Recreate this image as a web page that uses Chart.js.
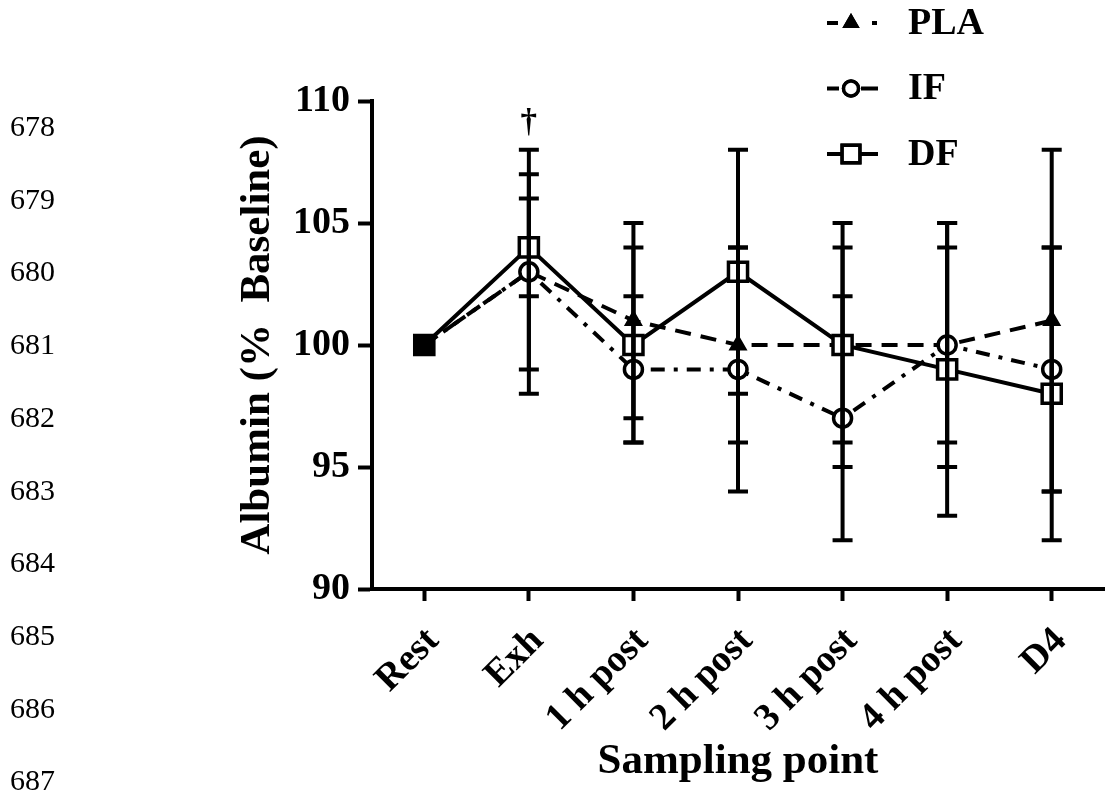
<!DOCTYPE html>
<html>
<head>
<meta charset="utf-8">
<script src="https://cdn.jsdelivr.net/npm/chart.js@4.4.1/dist/chart.umd.min.js"></script>
<style>
  html, body { margin: 0; padding: 0; background: #fff; }
  #wrap { position: relative; width: 1105px; height: 809px; overflow: hidden; }
  #chart { position: absolute; left: 0; top: 0; }
  .ln { position: absolute; left: 10px; font: 30px "Liberation Serif", "Times New Roman", serif; line-height: 30px; color: #000; }
</style>
</head>
<body>
<div id="wrap">
  <canvas id="chart" width="1105" height="809"></canvas>
</div>
<script>
// Albumin (% baseline) per sampling point, mean and error per group
const samplingPoints = ['Rest', 'Exh', '1 h post', '2 h post', '3 h post', '4 h post', 'D4'];
const plaMean = [100, 103, 101, 100, 100, 100, 101];
const plaErr  = [0, 5, 4, 4, 5, 4, 7];
const ifMean  = [100, 103, 99, 99, 97, 100, 99];
const ifErr   = [0, 4, 3, 5, 5, 5, 5];
const dfMean  = [100, 104, 100, 103, 100, 99, 98];
const dfErr   = [0, 2, 4, 5, 4, 6, 6];
const marks   = ['', '†', '', '', '', '', ''];
const yTicks  = [90, 95, 100, 105, 110];
const lineNumbers = ['678', '679', '680', '681', '682', '683', '684', '685', '686', '687'];

const FONT = '"Liberation Serif", "Times New Roman", serif';

// manuscript line numbers down the left margin
const wrap = document.getElementById('wrap');
lineNumbers.forEach((n, i) => {
    const d = document.createElement('div');
    d.className = 'ln';
    d.style.top = (111 + i * 72.7) + 'px';
    d.textContent = n;
    wrap.appendChild(d);
});

const errorBars = {
    id: 'errorBars',
    afterDatasetsDraw(chart) {
        const { ctx, scales: { y } } = chart;
        ctx.save();
        ctx.strokeStyle = '#000';
        ctx.lineWidth = 4;
        ctx.setLineDash([]);
        chart.data.datasets.forEach((ds, di) => {
            const meta = chart.getDatasetMeta(di);
            ds.data.forEach((v, i) => {
                const e = ds.err[i];
                if (!e) return;
                const x = meta.data[i].x;
                const yt = y.getPixelForValue(v + e);
                const yb = y.getPixelForValue(v - e);
                ctx.beginPath();
                ctx.moveTo(x, yt); ctx.lineTo(x, yb);
                ctx.moveTo(x - 10, yt); ctx.lineTo(x + 10, yt);
                ctx.moveTo(x - 10, yb); ctx.lineTo(x + 10, yb);
                ctx.stroke();
            });
        });
        // significance marks above the highest bar
        ctx.fillStyle = '#000';
        ctx.font = 'bold 33px ' + FONT;
        ctx.textAlign = 'center';
        ctx.textBaseline = 'alphabetic';
        const meta0 = chart.getDatasetMeta(0);
        marks.forEach((m, i) => {
            if (!m) return;
            const top = Math.max(...chart.data.datasets.map(ds => ds.data[i] + ds.err[i]));
            ctx.fillText(m, meta0.data[i].x, y.getPixelForValue(top) - 18);
        });
        ctx.restore();
    }
};

const legendBox = {
    id: 'legendBox',
    afterDraw(chart) {
        const { ctx } = chart;
        ctx.save();
        chart.data.datasets.forEach((ds, r) => {
            const cy = 23 + r * 65.5;
            ctx.strokeStyle = '#000';
            ctx.lineWidth = 4;
            ctx.setLineDash(ds.legendDash);
            ctx.beginPath();
            ctx.moveTo(827, cy); ctx.lineTo(878, cy);
            ctx.stroke();
            ctx.setLineDash([]);
            ctx.fillStyle = ds.pointStyle === 'triangle' ? '#000' : '#fff';
            ctx.lineWidth = ds.pointStyle === 'triangle' ? 2 : 3.5;
            Chart.helpers.drawPoint(ctx, {
                pointStyle: ds.pointStyle,
                radius: ds.pointStyle === 'rect' ? 12.5 : (ds.pointStyle === 'circle' ? 7.5 : 8),
                borderWidth: ctx.lineWidth
            }, 851, cy);
            ctx.fill();
            ctx.stroke();
            ctx.fillStyle = '#000';
            ctx.font = 'bold 38px ' + FONT;
            ctx.textAlign = 'left';
            ctx.textBaseline = 'middle';
            ctx.fillText(ds.label, 908, cy + 1);
        });
        ctx.restore();
    }
};

Chart.defaults.font.family = FONT;
Chart.defaults.color = '#000';

new Chart(document.getElementById('chart'), {
    type: 'line',
    data: {
        labels: samplingPoints,
        datasets: [
            {
                label: 'PLA', data: plaMean, err: plaErr, order: 2,
                borderColor: '#000', borderWidth: 4, borderDash: [16, 10],
                pointStyle: 'triangle', pointRadius: 9, pointBorderWidth: 2,
                pointBackgroundColor: '#000', pointBorderColor: '#000',
                legendDash: [11, 34, 5, 10]
            },
            {
                label: 'IF', data: ifMean, err: ifErr, order: 1,
                borderColor: '#000', borderWidth: 4, borderDash: [14, 9, 4, 9],
                pointStyle: 'circle', pointRadius: 9, pointBorderWidth: 3.5,
                pointBackgroundColor: '#fff', pointBorderColor: '#000',
                legendDash: [12, 22, 18]
            },
            {
                label: 'DF', data: dfMean, err: dfErr, order: 0,
                borderColor: '#000', borderWidth: 4,
                pointStyle: 'rect', pointRadius: 13.5, pointBorderWidth: 3.5,
                pointBackgroundColor: c => c.dataIndex === 0 ? '#000' : '#fff',
                pointBorderColor: '#000',
                legendDash: []
            }
        ]
    },
    options: {
        responsive: false,
        animation: false,
        layout: { autoPadding: false, padding: { left: 232, right: 1, top: 101, bottom: 21 } },
        plugins: { legend: { display: false }, tooltip: { enabled: false } },
        elements: { line: { tension: 0 } },
        scales: {
            x: {
                offset: true,
                afterFit: s => { s.height = 199; s.paddingLeft = 0; s.paddingRight = 0; },
                border: { display: true, color: '#000', width: 4 },
                grid: { display: true, offset: false, drawOnChartArea: false, tickLength: 12, tickWidth: 4, tickColor: '#000' },
                ticks: { minRotation: 45, maxRotation: 45, padding: 18, labelOffset: 9, autoSkip: false, font: { size: 38, weight: 'bold' } },
                title: { display: true, text: 'Sampling point', padding: 0, font: { size: 43, weight: 'bold' } }
            },
            y: {
                min: 90, max: 110,
                afterFit: s => { s.width = 140; },
                afterBuildTicks: s => { s.ticks = yTicks.map(v => ({ value: v })); },
                border: { display: true, color: '#000', width: 4 },
                grid: { display: true, drawOnChartArea: false, tickLength: 14, tickWidth: 4, tickColor: '#000' },
                ticks: { padding: 8, font: { size: 38, weight: 'bold' } },
                title: { display: true, text: 'Albumin (%  Baseline)', padding: 0, font: { size: 43, weight: 'bold' } }
            }
        }
    },
    plugins: [errorBars, legendBox]
});
</script>
</body>
</html>
